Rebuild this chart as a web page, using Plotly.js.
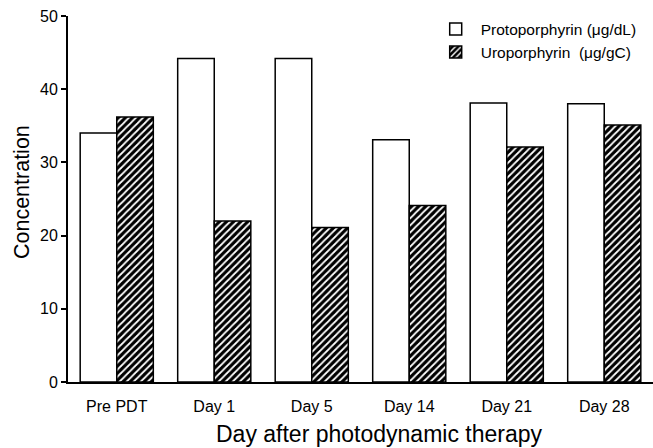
<!DOCTYPE html>
<html>
<head>
<meta charset="utf-8">
<script src="https://cdn.plot.ly/plotly-3.0.1.min.js"></script>
<style>html,body{margin:0;padding:0;background:#fff;}#chart{width:653px;height:448px;}</style>
</head>
<body>
<div id="chart"></div>
<script>
const categories = ["Pre PDT", "Day 1", "Day 5", "Day 14", "Day 21", "Day 28"];
const protoporphyrin = [34.0, 44.2, 44.2, 33.1, 38.1, 38.0];
const uroporphyrin = [36.2, 22.0, 21.1, 24.1, 32.1, 35.1];
const seriesNames = ["Protoporphyrin (\u03bcg/dL)", "Uroporphyrin  (\u03bcg/gC)"];
const yTicks = [0, 10, 20, 30, 40, 50];
const xTitle = "Day after photodynamic therapy";
const yTitle = "Concentration";

const font = "Arial, 'Liberation Sans', sans-serif";

const traces = [
  {
    type: "bar", x: categories, y: protoporphyrin, name: seriesNames[0],
    marker: {color: "#ffffff", line: {color: "#000000", width: 1.5}}
  },
  {
    type: "bar", x: categories, y: uroporphyrin, name: seriesNames[1],
    marker: {
      color: "#000000",
      line: {color: "#000000", width: 1.5},
      pattern: {shape: "/", fgcolor: "#ffffff", bgcolor: "#000000", size: 5, solidity: 0.35}
    }
  }
];

const layout = {
  width: 653, height: 448,
  margin: {l: 68, r: 0, t: 16, b: 66},
  paper_bgcolor: "#ffffff", plot_bgcolor: "#ffffff",
  font: {family: font, color: "#000000", size: 16},
  barmode: "group", bargap: 0.25, bargroupgap: 0,
  showlegend: true,
  legend: {x: 0.62, y: 1.01, xanchor: "left", yanchor: "top", font: {size: 15.5, family: font},
           bgcolor: "rgba(0,0,0,0)", itemwidth: 40, tracegroupgap: 2},
  xaxis: {
    showline: true, linecolor: "#000000", linewidth: 2,
    ticks: "", showgrid: false, zeroline: false,
    tickfont: {size: 16, family: font}, ticklabelstandoff: 9
  },
  yaxis: {
    range: [0, 50], tickvals: yTicks, ticktext: yTicks.map(String),
    showline: true, linecolor: "#000000", linewidth: 2,
    ticks: "outside", ticklen: 5, tickwidth: 2, tickcolor: "#000000",
    showgrid: false, zeroline: false,
    tickfont: {size: 16, family: font}
  },
  annotations: [
    {text: xTitle, xref: "paper", yref: "paper", x: 0.533, y: -0.142,
     xanchor: "center", yanchor: "middle", showarrow: false,
     font: {size: 23, family: font, color: "#000000"}},
    {text: yTitle, xref: "paper", yref: "paper", x: -0.0786, y: 0.519,
     xanchor: "center", yanchor: "middle", showarrow: false, textangle: -90,
     font: {size: 21.5, family: font, color: "#000000"}}
  ]
};

Plotly.newPlot("chart", traces, layout, {displayModeBar: false, staticPlot: true});
</script>
</body>
</html>
